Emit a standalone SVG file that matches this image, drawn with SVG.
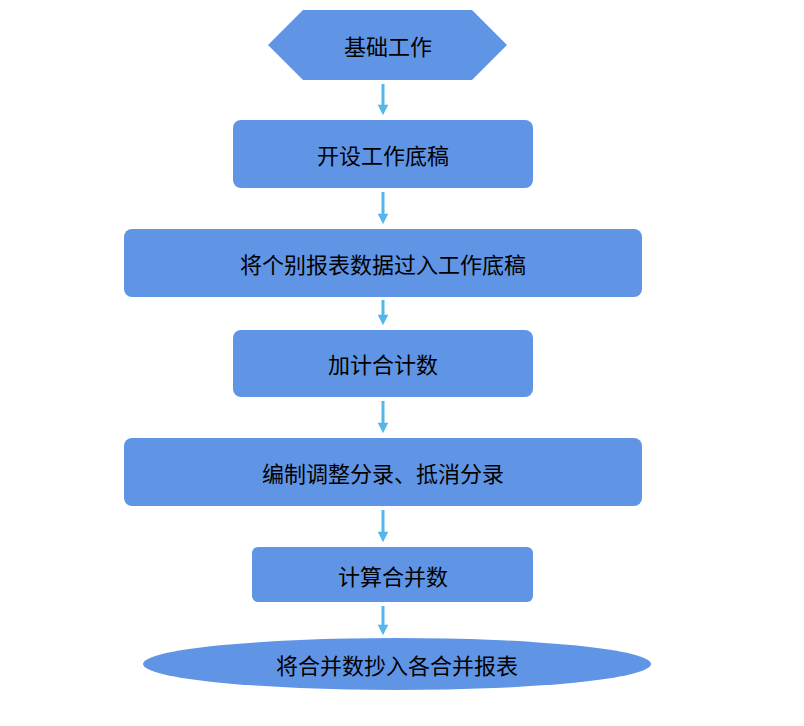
<svg xmlns="http://www.w3.org/2000/svg" width="804" height="726" viewBox="0 0 804 726">
<style>
.n{fill:#6095e5}
.t{font-family:"Noto Sans CJK SC",sans-serif;font-size:22px;fill:#000;text-anchor:middle;dominant-baseline:central}
.c line{stroke:#55b6ea;stroke-width:3}
</style>
<defs><marker id="a" viewBox="0 0 10 10" refX="5" refY="5" markerWidth="4" markerHeight="3.5" orient="auto" markerUnits="strokeWidth"><path d="M0,0L10,5L0,10z" fill="#55b6ea"/></marker></defs>
<rect width="804" height="726" fill="#fff"/>
<g class="c">
<line x1="383" y1="84" x2="383" y2="110" marker-end="url(#a)"/>
<line x1="383" y1="192" x2="383" y2="219" marker-end="url(#a)"/>
<line x1="383" y1="300" x2="383" y2="320" marker-end="url(#a)"/>
<line x1="383" y1="401" x2="383" y2="428" marker-end="url(#a)"/>
<line x1="383" y1="510" x2="383" y2="537" marker-end="url(#a)"/>
<line x1="383" y1="606" x2="383" y2="630" marker-end="url(#a)"/>
</g>
<g id="n1"><polygon class="n" points="268,45 303,10 472,10 507,45 472,80 303,80"/><text class="t" x="388" y="45">基础工作</text></g>
<g id="n2"><rect class="n" x="233" y="120" width="300" height="68" rx="8"/><text class="t" x="383" y="154">开设工作底稿</text></g>
<g id="n3"><rect class="n" x="124" y="229" width="518" height="68" rx="8"/><text class="t" x="383" y="263">将个别报表数据过入工作底稿</text></g>
<g id="n4"><rect class="n" x="233" y="330" width="300" height="67" rx="8"/><text class="t" x="383" y="363">加计合计数</text></g>
<g id="n5"><rect class="n" x="124" y="438" width="518" height="68" rx="8"/><text class="t" x="383" y="472">编制调整分录、抵消分录</text></g>
<g id="n6"><rect class="n" x="252" y="547" width="281" height="55" rx="6"/><text class="t" x="393" y="575">计算合并数</text></g>
<g id="n7"><ellipse class="n" cx="397" cy="664" rx="254" ry="26"/><text class="t" x="397" y="664">将合并数抄入各合并报表</text></g>
</svg>
